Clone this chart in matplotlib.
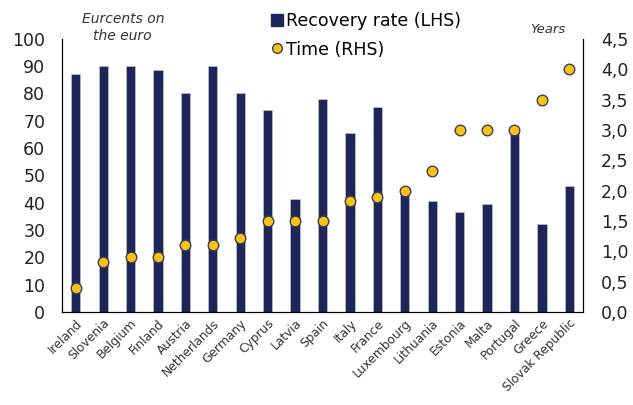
import numpy as np
import matplotlib.pyplot as plt
import matplotlib.transforms as mtransforms
from matplotlib.lines import Line2D
from matplotlib.ticker import FuncFormatter

countries = ["Ireland", "Slovenia", "Belgium", "Finland", "Austria", "Netherlands",
             "Germany", "Cyprus", "Latvia", "Spain", "Italy", "France", "Luxembourg",
             "Lithuania", "Estonia", "Malta", "Portugal", "Greece", "Slovak Republic"]
recovery_rate = [87, 90, 90, 88.5, 80, 90, 80, 74, 41.5, 78, 65.5, 75, 45.5,
                 40.5, 36.5, 39.5, 67, 32, 46]
time_years = [0.4, 0.82, 0.9, 0.9, 1.1, 1.1, 1.22, 1.5, 1.5, 1.5, 1.82, 1.9, 2.0,
              2.32, 3.0, 3.0, 3.0, 3.5, 4.0]

navy = "#1e2659"
gold = "#fcc112"
dot_edge = "#3a3f55"

fig = plt.figure(figsize=(6.33, 4.05), dpi=100)
ax = fig.add_axes([0.098, 0.230, 0.823, 0.674])
ax2 = ax.twinx()

x = np.arange(len(countries))
ax.bar(x, recovery_rate, width=0.34, color=navy, edgecolor="#c8cce0", linewidth=0.4,
       zorder=2)
ax2.scatter(x, time_years, s=58, color=gold, edgecolor=dot_edge, linewidth=1.0,
            zorder=3)

ax.set_xlim(-0.5, len(countries) - 0.5)
ax.set_ylim(0, 100)
ax.set_yticks(range(0, 101, 10))
ax2.set_ylim(0, 4.5)
ax2.set_yticks(np.arange(0, 4.51, 0.5))
ax2.yaxis.set_major_formatter(FuncFormatter(lambda v, p: f"{v:.1f}".replace(".", ",")))

ax.set_xticks(x)
ax.set_xticklabels(countries, rotation=45, ha="right", rotation_mode="anchor",
                   fontsize=8.8, color="#333333")
# nudge the rotated labels a bit lower, like the original
shift = mtransforms.ScaledTranslation(3 / 100, -5 / 100, fig.dpi_scale_trans)
for lbl in ax.get_xticklabels():
    lbl.set_transform(lbl.get_transform() + shift)

for a in (ax, ax2):
    a.spines["top"].set_visible(False)
    a.tick_params(length=0)
ax.tick_params(axis="y", labelsize=12.5, pad=12, colors="#222222")
ax2.tick_params(axis="y", labelsize=12.5, pad=13, colors="#222222")

fig.text(0.194, 0.932, "Eurcents on\nthe euro", ha="center", va="center",
         fontsize=10, style="italic", color="#333333", linespacing=1.25)
fig.text(0.866, 0.926, "Years", ha="center", va="center", fontsize=9.5,
         style="italic", color="#333333")

handles = [
    Line2D([], [], marker="s", linestyle="none", markersize=8, color=navy),
    Line2D([], [], marker="o", linestyle="none", markersize=7, markerfacecolor=gold,
           markeredgecolor=dot_edge, markeredgewidth=1.0),
]
fig.legend(handles, ["Recovery rate (LHS)", "Time (RHS)"], loc="upper left",
           bbox_to_anchor=(0.428, 0.97), frameon=False, fontsize=12.5,
           handlelength=0.7, handletextpad=0.15, labelspacing=0.6,
           borderaxespad=0, borderpad=0)

plt.savefig("out.png", dpi=100)
